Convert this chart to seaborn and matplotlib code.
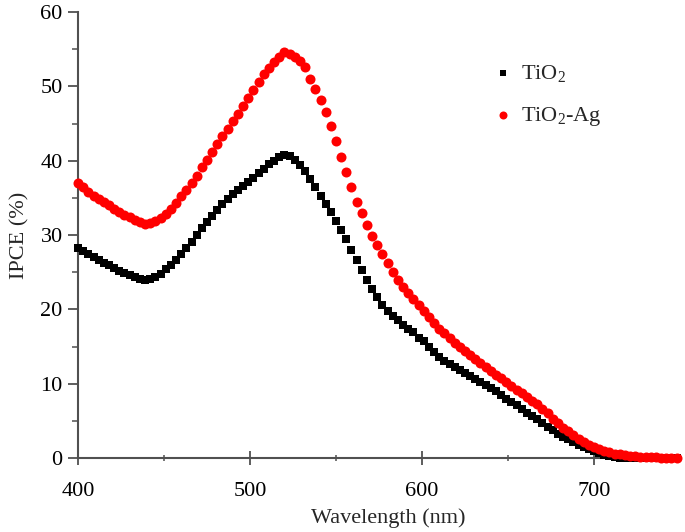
import matplotlib
matplotlib.use('Agg')
import matplotlib.pyplot as plt
import seaborn as sns
import numpy as np
import pandas as pd
from matplotlib.ticker import MultipleLocator

# wavelength grid (nm) and IPCE values (%)
wavelength = list(range(400, 750, 3))

tio2 = [28.2, 27.8, 27.4, 27.0, 26.7, 26.3, 26.0, 25.6, 25.2, 24.9,
        24.6, 24.3, 24.1, 24.0, 24.1, 24.4, 24.8, 25.4, 26.0, 26.7,
        27.5, 28.3, 29.1, 30.0, 30.9, 31.7, 32.6, 33.4, 34.2, 34.9,
        35.5, 36.1, 36.6, 37.1, 37.7, 38.3, 38.9, 39.5, 40.0, 40.5,
        40.8, 40.6, 40.1, 39.4, 38.6, 37.6, 36.5, 35.3, 34.2, 33.1,
        31.9, 30.7, 29.4, 28.0, 26.6, 25.3, 24.0, 22.8, 21.7, 20.6,
        19.8, 19.1, 18.5, 17.9, 17.4, 16.9, 16.2, 15.7, 14.9, 14.2,
        13.6, 13.0, 12.6, 12.2, 11.8, 11.4, 11.0, 10.6, 10.2, 9.8,
        9.4, 9.0, 8.5, 8.0, 7.5, 7.1, 6.6, 6.1, 5.6, 5.2,
        4.7, 4.2, 3.7, 3.2, 2.8, 2.5, 2.2, 1.8, 1.5, 1.2,
        0.95, 0.7, 0.45, 0.25, 0.1, 0.0, 0.0, 0.0, 0.0, 0.0,
        0.0, 0.0, 0.0, 0.0, 0.0, 0.0, 0.0]

tio2_ag = [37.0, 36.4, 35.8, 35.3, 34.9, 34.5, 34.0, 33.5, 33.1, 32.7,
           32.4, 32.0, 31.7, 31.5, 31.6, 31.9, 32.3, 32.8, 33.5, 34.3,
           35.2, 36.1, 37.0, 38.0, 39.1, 40.1, 41.2, 42.3, 43.3, 44.3,
           45.3, 46.3, 47.3, 48.4, 49.5, 50.6, 51.6, 52.5, 53.3, 54.0,
           54.6, 54.4, 54.0, 53.4, 52.6, 51.0, 49.6, 48.2, 46.5, 44.6,
           42.6, 40.5, 38.5, 36.5, 34.5, 32.9, 31.4, 29.9, 28.6, 27.4,
           26.2, 25.0, 24.0, 23.0, 22.2, 21.4, 20.6, 19.8, 19.0, 18.2,
           17.4, 16.8, 16.1, 15.5, 14.9, 14.4, 13.9, 13.3, 12.8, 12.2,
           11.7, 11.2, 10.7, 10.2, 9.7, 9.2, 8.7, 8.2, 7.7, 7.2,
           6.6, 6.0, 5.3, 4.7, 4.1, 3.6, 3.1, 2.6, 2.2, 1.8,
           1.5, 1.2, 1.0, 0.8, 0.6, 0.5, 0.4, 0.3, 0.25, 0.2,
           0.15, 0.1, 0.1, 0.05, 0.05, 0.0, 0.0]

sns.set_style('ticks')
plt.rcParams['font.family'] = ['Liberation Serif', 'DejaVu Serif']
plt.rcParams['mathtext.fontset'] = 'custom'
plt.rcParams['mathtext.rm'] = 'Liberation Serif'

df = pd.DataFrame({'wl': wavelength, 'TiO2': tio2, 'TiO2-Ag': tio2_ag})

fig = plt.figure(figsize=(6.85, 5.32), dpi=100)
ax = fig.add_axes([0.1139, 0.1391, 0.8788, 0.8383])

sns.scatterplot(data=df, x='wl', y='TiO2', ax=ax, marker='s', color='black',
                s=36, linewidth=0, label='TiO$_\\mathrm{2}$', clip_on=False, zorder=3)
sns.scatterplot(data=df, x='wl', y='TiO2-Ag', ax=ax, marker='o', color='#ff0000',
                s=52, linewidth=0, label='TiO$_\\mathrm{2}$-Ag', clip_on=False, zorder=4)

ax.set_xlim(400, 750)
ax.set_ylim(0, 60)
ax.xaxis.set_major_locator(MultipleLocator(100))
ax.xaxis.set_minor_locator(MultipleLocator(50))
ax.yaxis.set_major_locator(MultipleLocator(10))
ax.yaxis.set_minor_locator(MultipleLocator(5))
ax.set_xticks([400, 500, 600, 700])
ax.set_xticklabels(['400', '500', '600', '700'])

for side in ['top', 'right']:
    ax.spines[side].set_visible(False)
for side in ['left', 'bottom']:
    ax.spines[side].set_color('#505050')
    ax.spines[side].set_linewidth(1.5)

ax.tick_params(which='major', direction='out', length=7, width=1.3, color='#505050',
               labelsize=16, labelcolor='black', pad=4)
ax.tick_params(which='minor', direction='out', length=4, width=1.1, color='#505050')
ax.tick_params(axis='x', which='both', direction='inout')
ax.tick_params(axis='x', which='major', length=10, pad=12)

ax.set_xlabel('Wavelength (nm)', fontsize=16)
ax.xaxis.set_label_coords(0.515, -0.112)
ax.set_ylabel('IPCE (%)', fontsize=16, labelpad=8)

ax.legend(loc='upper left', bbox_to_anchor=(0.655, 0.93), frameon=False, fontsize=16,
          handlelength=1.0, handletextpad=0.3, labelspacing=0.9, markerscale=0.8)

fig.savefig('out.png', dpi=100)
plt.close(fig)
